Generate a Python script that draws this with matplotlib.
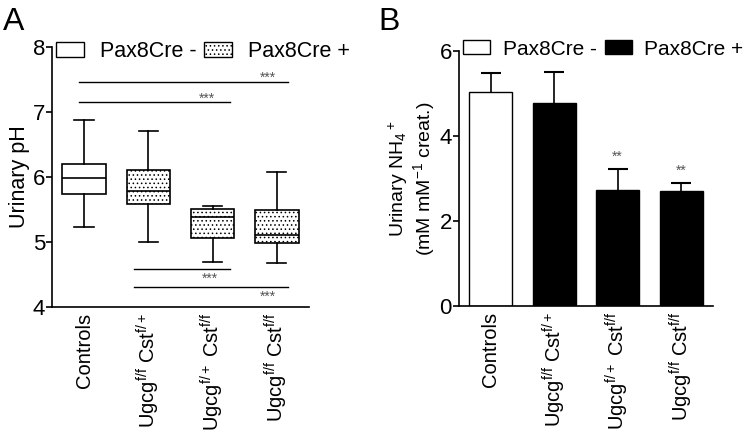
import matplotlib
matplotlib.use("Agg")
import matplotlib.pyplot as plt
from matplotlib.patches import Patch

plt.rcParams["font.family"] = ["Liberation Sans", "DejaVu Sans"]
plt.rcParams["mathtext.fontset"] = "custom"
plt.rcParams["mathtext.rm"] = "Liberation Sans"
plt.rcParams["mathtext.it"] = "Liberation Sans"
plt.rcParams["hatch.linewidth"] = 0.6

# -------------------------------
# DATA
# -------------------------------
groups = ["Controls",
          "Ugcg$^{f/f}$ Cst$^{f/+}$",
          "Ugcg$^{f/+}$ Cst$^{f/f}$",
          "Ugcg$^{f/f}$ Cst$^{f/f}$"]

# Panel A: urinary pH box plots (min, q1, median, q3, max)
ph_min = [5.23, 5.00, 4.69, 4.67]
ph_q1 = [5.74, 5.58, 5.06, 4.99]
ph_med = [5.99, 5.79, 5.39, 5.11]
ph_q3 = [6.20, 6.10, 5.51, 5.49]
ph_max = [6.88, 6.71, 5.56, 6.07]
ph_cre = [False, True, True, True]

# significance brackets: (x start, x end, y level, label)
sig_a = [(-0.08, 3.17, 7.46, "***"),
         (-0.08, 2.27, 7.15, "***"),
         (0.78, 2.27, 4.59, "***"),
         (0.78, 3.17, 4.30, "***")]
sig_a_text = [(2.86, 7.52), (1.91, 7.20), (1.96, 4.44), (2.86, 4.15)]

# Panel B: urinary NH4+ (mean, SEM)
nh4_mean = [5.03, 4.78, 2.73, 2.70]
nh4_sem = [0.45, 0.73, 0.49, 0.20]
nh4_sig = ["", "", "**", "**"]

# -------------------------------
# FIGURE
# -------------------------------
fig = plt.figure(figsize=(7.56, 4.32), dpi=100)
axA = fig.add_axes([0.0688, 0.2894, 0.3399, 0.6018])
axB = fig.add_axes([0.607, 0.2917, 0.336, 0.5909])

x = list(range(len(groups)))

# Panel A
stats = []
for i in x:
    stats.append({"whislo": ph_min[i], "q1": ph_q1[i], "med": ph_med[i],
                  "q3": ph_q3[i], "whishi": ph_max[i], "fliers": []})
lw = 1.2
bp = axA.bxp(stats, positions=x, widths=0.68, patch_artist=True,
             showfliers=False, capwidths=0.3,
             boxprops=dict(linewidth=lw, edgecolor="black", facecolor="white"),
             medianprops=dict(linewidth=lw, color="black"),
             whiskerprops=dict(linewidth=lw, color="black"),
             capprops=dict(linewidth=lw, color="black"))
for box, cre in zip(bp["boxes"], ph_cre):
    if cre:
        box.set_hatch("....")

for (x0, x1, y, lab), (tx, ty) in zip(sig_a, sig_a_text):
    axA.plot([x0, x1], [y, y], color="black", lw=1.0)
    axA.text(tx, ty, lab, ha="center", va="center", fontsize=10, color="#555555")

axA.set_xlim(-0.5, 3.5)
axA.set_ylim(4, 8)
axA.set_yticks([4, 5, 6, 7, 8])
axA.set_ylabel("Urinary pH", fontsize=15.5, labelpad=2)

legA = [Patch(facecolor="white", edgecolor="black", lw=1.0, label="Pax8Cre -"),
        Patch(facecolor="white", edgecolor="black", lw=1.0, hatch="....", label="Pax8Cre +")]
axA.legend(handles=legA, loc="upper left", bbox_to_anchor=(0.0, 1.04), ncol=2,
           frameon=False, fontsize=15.5, handlelength=1.3, handleheight=0.65,
           handletextpad=0.75, columnspacing=0.3, borderaxespad=0.1, borderpad=0.1)

# Panel B
colors = ["white", "black", "black", "black"]
bars = axB.bar(x, nh4_mean, width=0.68, color=colors, edgecolor="black", lw=1.0,
               yerr=[[0, 0, 0, 0], nh4_sem], capsize=7,
               error_kw=dict(elinewidth=1.2, capthick=1.5, ecolor="black"))
# keep only the upper caps
caps = bars.errorbar.lines[1]
caps[0].set_visible(False)
for i in x:
    if nh4_sig[i]:
        axB.text(i, nh4_mean[i] + nh4_sem[i] + 0.12, nh4_sig[i],
                 ha="center", va="bottom", fontsize=10, color="#555555")

axB.set_xlim(-0.5, 3.5)
axB.set_ylim(0, 6)
axB.set_yticks([0, 2, 4, 6])
axB.set_ylabel("Urinary NH$_4$$^+$\n(mM mM$^{-1}$ creat.)", fontsize=14,
               labelpad=2, linespacing=1.05)

legB = [Patch(facecolor="white", edgecolor="black", lw=1.0, label="Pax8Cre -"),
        Patch(facecolor="black", edgecolor="black", lw=1.0, label="Pax8Cre +")]
axB.legend(handles=legB, loc="upper left", bbox_to_anchor=(0.0, 1.06), ncol=2,
           frameon=False, fontsize=15, handlelength=1.3, handleheight=0.65,
           handletextpad=0.6, columnspacing=0.4, borderaxespad=0.1, borderpad=0.1)

for ax in (axA, axB):
    for s in ("top", "right"):
        ax.spines[s].set_visible(False)
    for s in ("left", "bottom"):
        ax.spines[s].set_linewidth(1.2)
    ax.set_xticks(x)
    ax.set_xticklabels(groups, rotation=90, fontsize=14.5)
    ax.tick_params(axis="x", length=0, pad=4)
    ax.tick_params(axis="y", length=4, width=1.2, labelsize=16, pad=1)

fig.text(0.004, 0.93, "A", fontsize=23)
fig.text(0.501, 0.93, "B", fontsize=23)

fig.savefig("out.png", dpi=100)
